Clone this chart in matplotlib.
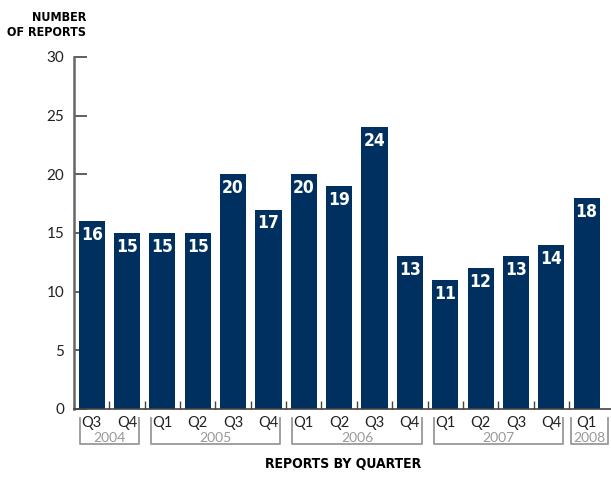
import matplotlib.pyplot as plt
import matplotlib.transforms as mtransforms
from matplotlib import font_manager as fm

quarters = ["Q3", "Q4", "Q1", "Q2", "Q3", "Q4", "Q1", "Q2", "Q3", "Q4",
            "Q1", "Q2", "Q3", "Q4", "Q1"]
reports = [16, 15, 15, 15, 20, 17, 20, 19, 24, 13, 11, 12, 13, 14, 18]
years = ["2004", "2005", "2006", "2007", "2008"]
year_spans = [(0, 1), (2, 5), (6, 9), (10, 13), (14, 14)]

bar_color = "#00305f"
plain = "Lato"

# condensed bold face for the headings and bar values
cond_file = None
for f in fm.fontManager.ttflist:
    if f.name == "DejaVu Sans" and f.stretch == "condensed" and f.weight in (700, "bold"):
        cond_file = f.fname
        break


def bold(size):
    if cond_file:
        return fm.FontProperties(fname=cond_file, size=size)
    return fm.FontProperties(family="DejaVu Sans", weight="bold", size=size)


fig = plt.figure(figsize=(6.11, 4.82), dpi=100)
ax = fig.add_axes([0.1211, 0.1515, 0.8784, 0.7303])

x = list(range(len(reports)))
ax.bar(x, reports, width=0.74, color=bar_color, zorder=2)

for xi, v in zip(x, reports):
    ax.annotate(str(v), (xi, v), xytext=(0, -3.5), textcoords="offset points",
                ha="center", va="top", color="white", fontproperties=bold(12.5))

ax.set_xlim(-0.5, 14.68)
ax.set_ylim(0, 30)
ax.set_yticks([0, 5, 10, 15, 20, 25, 30])
ax.tick_params(axis="y", direction="in", length=9, width=1.2, color="#444444",
               labelsize=11, pad=7, labelcolor="#222222")
for lab in ax.get_yticklabels():
    lab.set_family(plain)
ax.set_xticks([i + 0.5 for i in range(-1, 14)])
ax.set_xticklabels([])
ax.tick_params(axis="x", direction="in", length=6, width=1, color="#444444")

for s in ["top", "right"]:
    ax.spines[s].set_visible(False)
ax.spines["left"].set_color("#666666")
ax.spines["left"].set_linewidth(1.8)
ax.spines["bottom"].set_color("#444444")
ax.spines["bottom"].set_linewidth(1.2)

trans = mtransforms.blended_transform_factory(ax.transData, ax.transAxes)
for xi, q in zip(x, quarters):
    ax.text(xi, -0.040, q, transform=trans, ha="center", va="center",
            fontsize=10.5, color="#222222", family=plain)

for (a, b), yr in zip(year_spans, years):
    if a == b:
        l, r = a - 0.43, b + 0.6
    else:
        l, r = a - 0.32, b + 0.33
    ax.plot([l, l, r, r], [-0.026, -0.100, -0.100, -0.026], transform=trans,
            color="#999999", lw=1.3, clip_on=False)
    ax.text((l + r) / 2, -0.082, yr, transform=trans, ha="center",
            va="center", fontsize=10, color="#999999", family=plain)

fig.text(0.141, 0.977, "NUMBER\nOF REPORTS", ha="right", va="top",
         fontproperties=bold(9), linespacing=1.2)
fig.text(0.562, 0.022, "REPORTS BY QUARTER", ha="center", va="bottom",
         fontproperties=bold(10))

fig.savefig("out.png", dpi=100)
